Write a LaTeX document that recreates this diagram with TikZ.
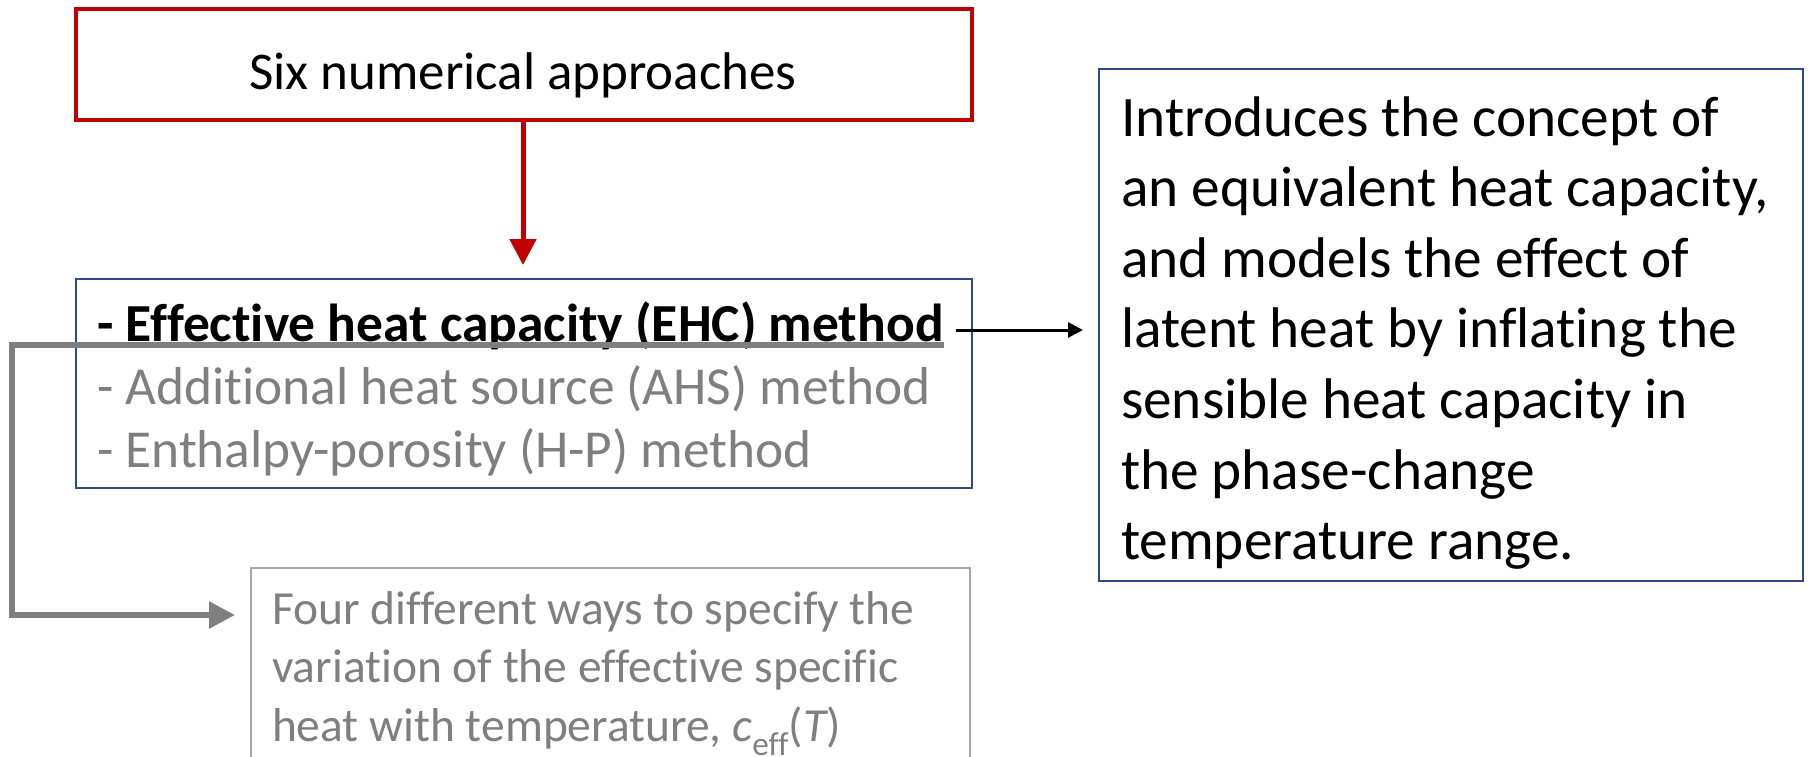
\documentclass[tikz,border=0pt]{standalone}
\usepackage{fontspec}
\setmainfont{Carlito}[Ligatures=NoCommon]
\usetikzlibrary{arrows.meta}
\definecolor{redline}{HTML}{C00000}
\definecolor{navy}{HTML}{2F4A8A}
\definecolor{midgray}{HTML}{7F7F7F}
\definecolor{lightgray}{HTML}{A6A6A6}
\newcommand\fsz[2]{\fontsize{#1}{#2}\selectfont}
\tikzset{
  box/.style={anchor=north west, inner sep=0pt, outer sep=0pt},
  txt/.style={anchor=base west, inner sep=0pt, outer sep=0pt, align=left},
}
\begin{document}
\begin{tikzpicture}[x=1pt,y=-1pt]
\useasboundingbox (0,0) rectangle (1808,756);
% top red box
\node[box, draw=redline, line width=4.5pt, minimum width=896pt, minimum height=111pt] (top) at (76,9) {};
\node[anchor=base, inner sep=0pt, font=\fsz{53}{64}] (toptxt) at (523,89) {Six numerical approaches};
% middle box
\node[box, draw=navy, line width=1.5pt, minimum width=896pt, minimum height=209pt] (mid) at (76,279) {};
\node[txt, font=\fsz{53.5}{63.5}\bfseries] (ehc) at (97,341) {- Effective heat capacity (EHC) method};
\node[txt, font=\fsz{53.4}{63.5}, text=midgray] (ahs) at (97,404) {- Additional heat source (AHS) method};
\node[txt, font=\fsz{53.4}{63.5}, text=midgray] (hp) at (97,467) {- Enthalpy-porosity (H-P) method};
% right box
\node[box, draw=navy, line width=1.5pt, minimum width=704pt, minimum height=512pt] (right) at (1099,69) {};
\node[txt, font=\fsz{57.3}{70.6}] (righttxt) at (1121,559.6) {Introduces the concept of\\an equivalent heat capacity,\\and models the effect of\\latent heat by inflating the\\sensible heat capacity in\\the phase-change\\temperature range.};
% bottom box
\node[box, draw=lightgray, line width=1.5pt, minimum width=719pt, minimum height=220pt] (bot) at (251,568) {};
\node[txt, font=\fsz{47.5}{58.8}, text=midgray] (bottxt) at (272,741.6) {Four different ways to specify the\\variation of the effective specific\\heat with temperature, {\itshape c}\textsubscript{eff}({\itshape T})};
% connectors
\coordinate (redtip) at (523,265);
\draw[redline, line width=5pt, -{Triangle[length=26pt,width=26pt]}] (top.south -| redtip) -- (redtip);
\coordinate (blkstart) at (956,330);
\coordinate (blktip) at (1083,330);
\draw[black, line width=3pt, -{Triangle[length=15pt,width=15pt]}] (blkstart) -- (blktip);
\coordinate (ul) at ([yshift=-4pt]ehc.base east);
\coordinate (corner1) at (12,345);
\coordinate (corner2) at (12,615);
\coordinate (graytip) at (235,615);
\draw[midgray, line width=5.5pt, -{Triangle[length=26pt,width=26pt]}] (ul) -- (ul -| corner1) -- (corner2) -- (graytip);
\end{tikzpicture}
\end{document}
